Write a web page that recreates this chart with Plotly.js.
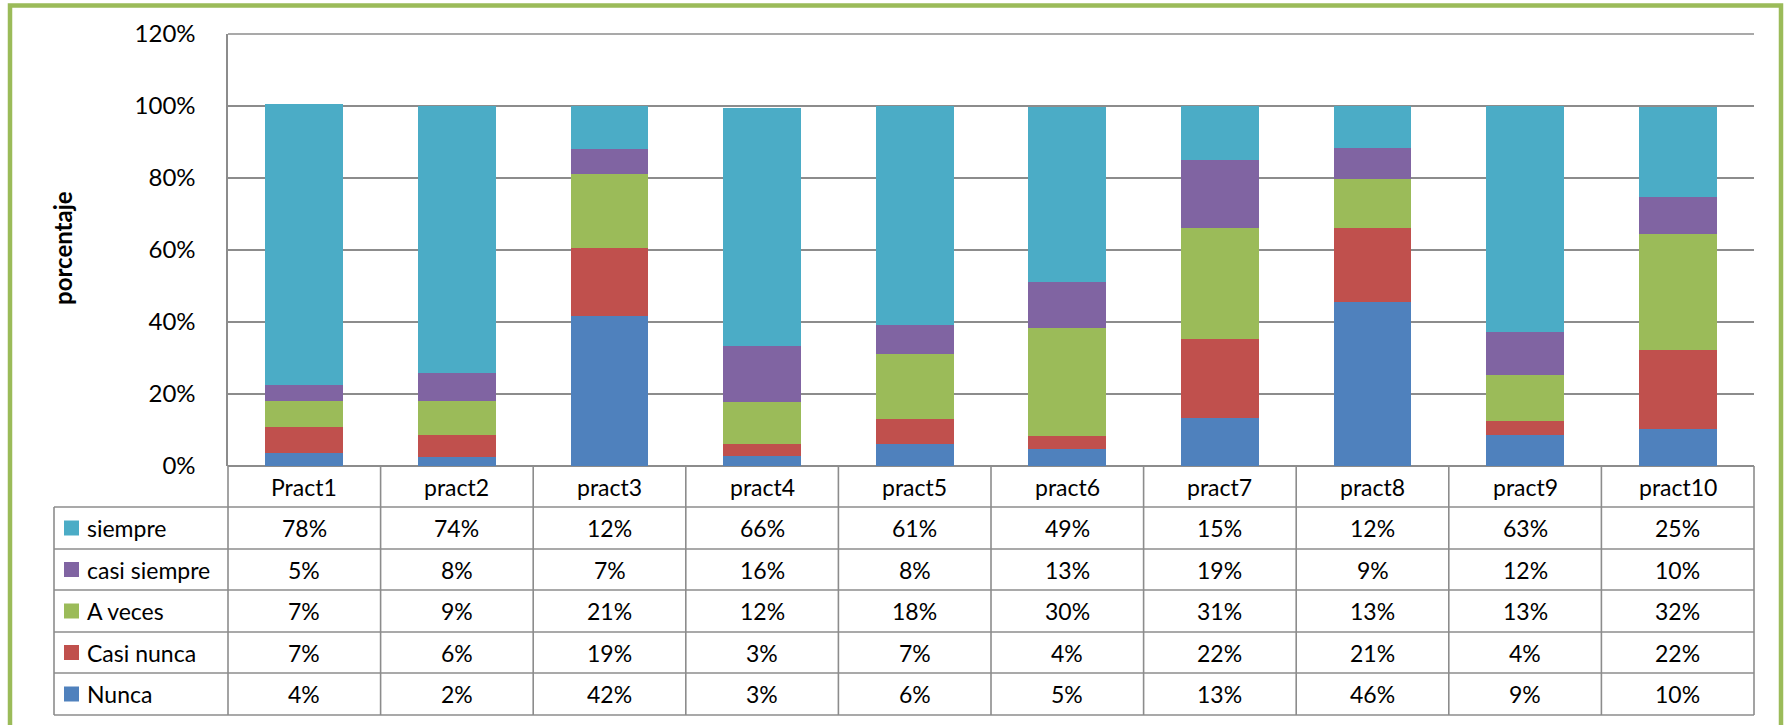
<!DOCTYPE html>
<html>
<head>
<meta charset="utf-8">
<script src="https://cdn.plot.ly/plotly-3.0.1.min.js"></script>
<style>
html,body{margin:0;padding:0;background:#fff;}
#chart{width:1788px;height:725px;}
</style>
</head>
<body>
<div id="chart"></div>
<script>
// ---- data (percent) ----
const categories = ['Pract1','pract2','pract3','pract4','pract5','pract6','pract7','pract8','pract9','pract10'];
const seriesNames = ['Nunca','Casi nunca','A veces','casi siempre','siempre'];
const nunca       = [3.7, 2.4, 41.6, 2.9, 6.1, 4.6, 13.3, 45.6, 8.6, 10.2];
const casiNunca   = [7.1, 6.2, 19.0, 3.1, 7.0, 3.8, 21.9, 20.6, 4.0, 21.9];
const aVeces      = [7.2, 9.4, 20.6, 11.8, 18.1, 30.0, 30.8, 13.4, 12.7, 32.3];
const casiSiempre = [4.6, 7.9, 6.8, 15.6, 8.0, 12.6, 19.0, 8.7, 11.8, 10.2];
const siempre     = [78.0, 74.1, 12.0, 66.1, 60.8, 48.7, 15.0, 11.7, 62.9, 25.2];
const yTickVals   = [0, 20, 40, 60, 80, 100, 120];
const yTickText   = ['0%','20%','40%','60%','80%','100%','120%'];

const seriesValues = [nunca, casiNunca, aVeces, casiSiempre, siempre];
const colors = ['#4F81BD','#C0504D','#9BBB59','#8064A2','#4BACC6'];

// ---- geometry ----
const W = 1788, H = 725;
const L = 228, R = 1754, T = 34, B = 466;
const pw = R - L, ph = B - T;
const px = p => (p - L) / pw;
const py = p => (B - p) / ph;
const FONT = 'Lato, "Open Sans", sans-serif';
const gridColor = '#8c8c8c';

const traces = seriesValues.map((vals, i) => ({
  type: 'bar',
  name: seriesNames[i],
  x: categories,
  y: vals,
  marker: {color: colors[i], line: {width: 0}},
  hoverinfo: 'x+y+name'
}));

// ---- data table ----
const headerTop = 466, rowLines = [507, 549, 590, 632, 673, 715];
const legendLeft = 54;
const shapes = [];
const annotations = [];
const line = (x0, y0, x1, y1) => shapes.push({
  type: 'line', xref: 'paper', yref: 'paper',
  x0: px(x0), x1: px(x1), y0: py(y0), y1: py(y1),
  line: {color: gridColor, width: 1.6}, layer: 'above'
});
// top gridline at the axis maximum (top edge of plot area)
line(L, T, R, T);
// horizontal
rowLines.forEach(y => line(legendLeft, y, R, y));
// vertical
const colW = pw / categories.length;
for (let k = 0; k <= categories.length; k++) line(L + k * colW, headerTop, L + k * colW, rowLines[rowLines.length - 1]);
line(legendLeft, rowLines[0], legendLeft, rowLines[rowLines.length - 1]);

// header
const headerY = (headerTop + rowLines[0]) / 2;
categories.forEach(c => annotations.push({
  xref: 'x', yref: 'paper', x: c, y: py(headerY), text: c, showarrow: false,
  xanchor: 'center', yanchor: 'middle', font: {family: FONT, size: 23, color: '#000'}
}));
// rows: top to bottom = siempre ... Nunca
const order = [4, 3, 2, 1, 0];
order.forEach((si, r) => {
  const cy = (rowLines[r] + rowLines[r + 1]) / 2;
  shapes.push({
    type: 'rect', xref: 'paper', yref: 'paper',
    x0: px(64), x1: px(79), y0: py(cy - 7.5), y1: py(cy + 7.5),
    fillcolor: colors[si], line: {width: 0}, layer: 'above'
  });
  annotations.push({
    xref: 'paper', yref: 'paper', x: px(85), y: py(cy), text: seriesNames[si], showarrow: false,
    xanchor: 'left', yanchor: 'middle', font: {family: FONT, size: 23, color: '#000'}
  });
  categories.forEach((c, j) => annotations.push({
    xref: 'x', yref: 'paper', x: c, y: py(cy), text: Math.round(seriesValues[si][j]) + '%', showarrow: false,
    xanchor: 'center', yanchor: 'middle', font: {family: FONT, size: 23, color: '#000'}
  }));
});

// outer green frame
shapes.push({
  type: 'rect', xref: 'paper', yref: 'paper',
  x0: px(10), x1: px(1781), y0: py(5.5), y1: py(760),
  line: {color: '#9BBB59', width: 4.5}, fillcolor: 'rgba(0,0,0,0)', layer: 'above'
});

// y title
annotations.push({
  xref: 'paper', yref: 'paper', x: px(62), y: py(248), text: '<b>porcentaje</b>', showarrow: false,
  textangle: -90, xanchor: 'center', yanchor: 'middle', font: {family: FONT, size: 24, color: '#000'}
});

const layout = {
  width: W, height: H,
  margin: {l: L, r: W - R, t: T, b: H - B, pad: 0},
  paper_bgcolor: '#fff', plot_bgcolor: '#fff',
  barmode: 'stack', bargap: 0.49,
  showlegend: false,
  font: {family: FONT, color: '#000'},
  xaxis: {
    type: 'category', showticklabels: false, showgrid: false, zeroline: false,
    showline: false, ticks: '', fixedrange: true
  },
  yaxis: {
    range: [0, 120], tickvals: yTickVals, ticktext: yTickText,
    showgrid: true, gridcolor: gridColor, gridwidth: 1.6,
    zeroline: true, zerolinecolor: gridColor, zerolinewidth: 1.6,
    showline: true, linecolor: gridColor, linewidth: 1.6,
    ticks: '', ticklabelstandoff: 26,
    tickfont: {family: FONT, size: 24, color: '#000'}, fixedrange: true
  },
  shapes: shapes,
  annotations: annotations
};

Plotly.newPlot('chart', traces, layout, {displayModeBar: false, staticPlot: true});
</script>
</body>
</html>
